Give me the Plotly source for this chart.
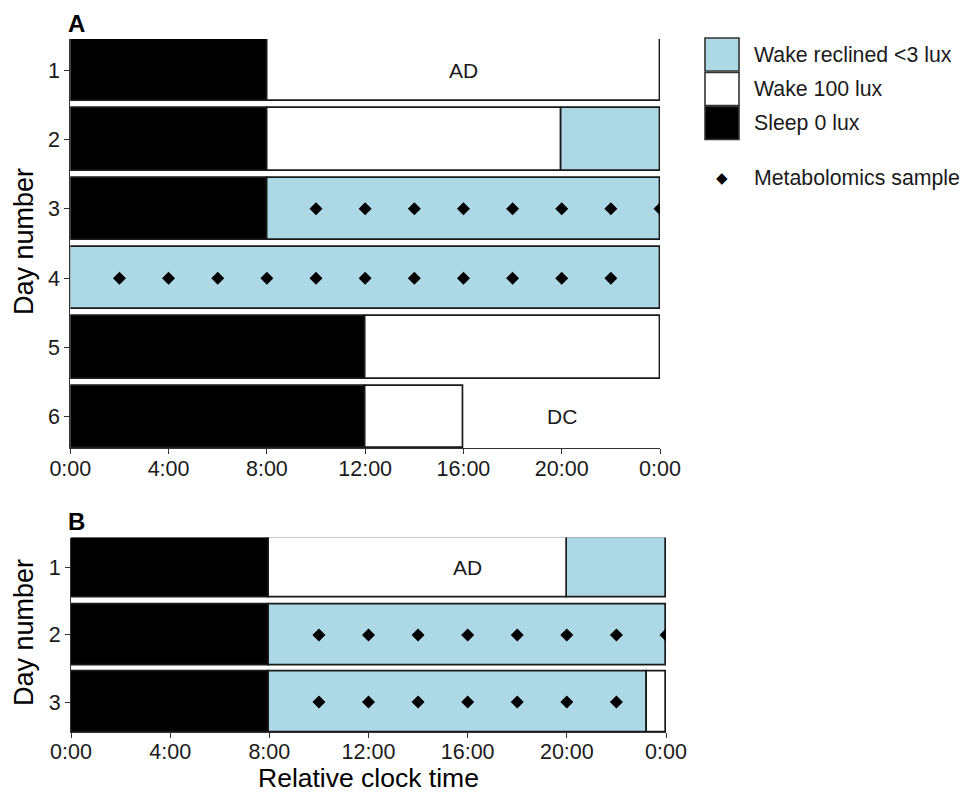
import plotly.graph_objects as go

# ---------------- data ----------------
states = ["Wake reclined <3 lux", "Wake 100 lux", "Sleep 0 lux"]
state_colors = {"Wake reclined <3 lux": "#ADD8E6", "Wake 100 lux": "#FFFFFF", "Sleep 0 lux": "#000000"}

# Panel A segments (day, start hour, end hour, state)
a_day   = [1, 1, 2, 2, 2, 3, 3, 4, 5, 5, 6, 6]
a_start = [0, 8, 0, 8, 20, 0, 8, 0, 0, 12, 0, 12]
a_end   = [8, 24, 8, 20, 24, 8, 24, 24, 12, 24, 12, 16]
a_state = ["Sleep 0 lux", "Wake 100 lux",
           "Sleep 0 lux", "Wake 100 lux", "Wake reclined <3 lux",
           "Sleep 0 lux", "Wake reclined <3 lux",
           "Wake reclined <3 lux",
           "Sleep 0 lux", "Wake 100 lux",
           "Sleep 0 lux", "Wake 100 lux"]

# Panel B segments
b_day   = [1, 1, 1, 2, 2, 3, 3, 3]
b_start = [0, 8, 20, 0, 8, 0, 8, 23.25]
b_end   = [8, 20, 24, 8, 24, 8, 23.25, 24]
b_state = ["Sleep 0 lux", "Wake 100 lux", "Wake reclined <3 lux",
           "Sleep 0 lux", "Wake reclined <3 lux",
           "Sleep 0 lux", "Wake reclined <3 lux", "Wake 100 lux"]

# Metabolomics samples (hour)
a_sample_day3 = [10, 12, 14, 16, 18, 20, 22, 24]
a_sample_day4 = [2, 4, 6, 8, 10, 12, 14, 16, 18, 20, 22]
b_sample_day2 = [10, 12, 14, 16, 18, 20, 22, 24]
b_sample_day3 = [10, 12, 14, 16, 18, 20, 22]

# Text labels
a_labels = [("AD", 16, 1), ("DC", 20, 6)]
b_labels = [("AD", 16, 1)]

x_tickvals = [0, 4, 8, 12, 16, 20, 24]
x_ticktext = ["0:00", "4:00", "8:00", "12:00", "16:00", "20:00", "0:00"]
a_days_ticks = [1, 2, 3, 4, 5, 6]
b_days_ticks = [1, 2, 3]

# ---------------- figure ----------------
OFF = 8  # page body margin
W, H = 971 - OFF, 796 - OFF
FONT = "Arial, Liberation Sans, sans-serif"
TXT = "#1a1a1a"


def px(x):
    return (x - OFF) / W


def py(y):
    return 1 - (y - OFF) / H


fig = go.Figure()


def add_segments(days, starts, ends, st_list, xa, ya):
    for s in states:
        idx = [i for i, v in enumerate(st_list) if v == s]
        if not idx:
            continue
        fig.add_trace(go.Bar(
            orientation="h",
            y=[days[i] for i in idx],
            base=[starts[i] for i in idx],
            x=[ends[i] - starts[i] for i in idx],
            width=0.9,
            marker=dict(color=state_colors[s], line=dict(color="#1a1a1a", width=1.7)),
            name=s, showlegend=False, xaxis=xa, yaxis=ya,
        ))


def add_samples(xs, day, xa, ya):
    fig.add_trace(go.Scatter(
        x=xs, y=[day] * len(xs), mode="markers",
        marker=dict(symbol="diamond", size=10, color="black"),
        name="Metabolomics sample", showlegend=False, xaxis=xa, yaxis=ya,
    ))


add_segments(a_day, a_start, a_end, a_state, "x", "y")
add_samples(a_sample_day3, 3, "x", "y")
add_samples(a_sample_day4, 4, "x", "y")

add_segments(b_day, b_start, b_end, b_state, "x2", "y2")
add_samples(b_sample_day2, 2, "x2", "y2")
add_samples(b_sample_day3, 3, "x2", "y2")

fig.update_layout(barmode="overlay", bargap=0)

axis_common = dict(
    showline=True, linecolor="#333333", linewidth=1.1,
    ticks="outside", ticklen=5, tickcolor="#333333", tickwidth=1.1,
    showgrid=False, zeroline=False, automargin=False,
    tickfont=dict(family=FONT, size=21.5, color=TXT),
)

fig.update_layout(
    width=W, height=H,
    margin=dict(l=0, r=0, t=0, b=0),
    paper_bgcolor="white", plot_bgcolor="white",
    showlegend=False,
    xaxis=dict(domain=[px(70.3), px(660)], range=[0, 24], tickvals=x_tickvals,
               ticktext=x_ticktext, anchor="y", ticklabelstandoff=-4, **axis_common),
    yaxis=dict(domain=[py(448), py(39)], range=[6.45, 0.55], tickvals=a_days_ticks,
               anchor="x", **axis_common),
    xaxis2=dict(domain=[px(71), px(666)], range=[0, 24], tickvals=x_tickvals,
                ticktext=x_ticktext, anchor="y2", ticklabelstandoff=-5, **axis_common),
    yaxis2=dict(domain=[py(732.3), py(537.5)], range=[3.45, 0.55], tickvals=b_days_ticks,
                anchor="x2", **axis_common),
)

# AD / DC labels
for t, xv, yv in a_labels:
    fig.add_annotation(x=xv, y=yv, xref="x", yref="y", text=t, showarrow=False,
                       font=dict(family=FONT, size=21, color=TXT))
for t, xv, yv in b_labels:
    fig.add_annotation(x=xv, y=yv, xref="x2", yref="y2", text=t, showarrow=False,
                       font=dict(family=FONT, size=21, color=TXT))

# Panel tags
fig.add_annotation(x=px(66), y=py(24), xref="paper", yref="paper", text="<b>A</b>",
                   showarrow=False, xanchor="left", yanchor="middle",
                   font=dict(family=FONT, size=24, color="black"))
fig.add_annotation(x=px(66), y=py(521), xref="paper", yref="paper", text="<b>B</b>",
                   showarrow=False, xanchor="left", yanchor="middle",
                   font=dict(family=FONT, size=24, color="black"))

# Axis titles
fig.add_annotation(x=px(24), y=py(242), xref="paper", yref="paper", text="Day number",
                   textangle=-90, showarrow=False, xanchor="center", yanchor="middle",
                   font=dict(family=FONT, size=27, color="black"))
fig.add_annotation(x=px(24), y=py(633), xref="paper", yref="paper", text="Day number",
                   textangle=-90, showarrow=False, xanchor="center", yanchor="middle",
                   font=dict(family=FONT, size=27, color="black"))
fig.add_annotation(x=px(368), y=py(778), xref="paper", yref="paper", text="Relative clock time",
                   showarrow=False, xanchor="center", yanchor="middle",
                   font=dict(family=FONT, size=26.5, color="black"))

# Manual legend (large key boxes like the reference)
key_tops = [38, 72.5, 106.5]
for s, top in zip(states, key_tops):
    fig.add_shape(type="rect", xref="paper", yref="paper",
                  x0=px(705), x1=px(739), y0=py(top + 33), y1=py(top),
                  fillcolor=state_colors[s], line=dict(color="#333333", width=1.6))
    fig.add_annotation(x=px(752), y=py(top + 16.5), xref="paper", yref="paper", text=s,
                       showarrow=False, xanchor="left", yanchor="middle",
                       font=dict(family=FONT, size=21.3, color=TXT))
fig.add_annotation(x=px(722), y=py(178), xref="paper", yref="paper", text="◆",
                   showarrow=False, xanchor="center", yanchor="middle",
                   font=dict(family="DejaVu Sans", size=15, color="black"))
fig.add_annotation(x=px(752), y=py(178), xref="paper", yref="paper", text="Metabolomics sample",
                   showarrow=False, xanchor="left", yanchor="middle",
                   font=dict(family=FONT, size=21.3, color=TXT))

fig.write_html("out.html")
